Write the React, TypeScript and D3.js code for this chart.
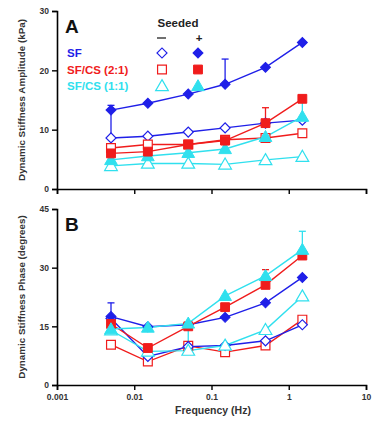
import React, { useEffect, useRef } from "react";
import * as d3 from "d3";

// frequencies (Hz)
const freqs = [0.005, 0.015, 0.05, 0.15, 0.5, 1.5];

// Panel A: dynamic stiffness amplitude (kPa)
const ampSfSeeded = [13.3, 14.45, 16.0, 17.65, 20.5, 24.7];
const ampSfOpen = [8.6, 8.9, 9.6, 10.3, 11.1, 11.6];
const ampCs21Seeded = [6.0, 6.3, 7.5, 8.15, 11.1, 15.2];
const ampCs21Open = [6.9, 7.5, 7.5, 8.3, 8.6, 9.4];
const ampCs11Seeded = [4.9, 5.55, 6.1, 6.75, 8.8, 12.2];
const ampCs11Open = [3.9, 4.3, 4.3, 4.15, 4.9, 5.45];

// Panel B: dynamic stiffness phase (degrees)
const phSfSeeded = [17.5, 14.9, 15.4, 17.3, 21.0, 27.5];
const phSfOpen = [17.0, 7.3, 9.8, 10.1, 11.3, 15.4];
const phCs21Seeded = [15.6, 9.45, 15.0, 19.9, 25.6, 33.1];
const phCs21Open = [10.3, 6.0, 10.0, 8.4, 10.1, 16.7];
const phCs11Seeded = [14.3, 14.7, 15.75, 22.8, 27.9, 34.6];
const phCs11Open = [14.0, 8.6, 8.8, 10.1, 14.1, 22.7];

// error bars: [freq, from, to, cap]
const ampErrors: [number, number, number, boolean][] = [
  [0.005, 13.3, 14.1, true],
  [0.005, 8.6, 13.3, false],
  [0.15, 17.65, 21.9, true],
  [0.5, 11.1, 13.7, true],
  [1.5, 12.2, 15.0, false],
];
const phErrors: [number, number, number, boolean][] = [
  [0.005, 17.5, 21.0, true],
  [0.5, 25.6, 29.5, true],
  [1.5, 34.6, 39.3, true],
  [0.05, 8.8, 15.4, false],
];

const xTicks = [0.001, 0.01, 0.1, 1, 10];
const xTickLabels = ["0.001", "0.01", "0.1", "1", "10"];
const ampTicks = [0, 10, 20, 30];
const phTicks = [0, 15, 30, 45];

const legendNames = ["SF", "SF/CS (2:1)", "SF/CS (1:1)"];

const BLUE = "#1f1fe8";
const RED = "#f01c1c";
const CYAN = "#30e0ee";
const FONT = "Liberation Sans, Arial, sans-serif";

type Shape = "diamond" | "square" | "triangle";

function drawMarker(g: any, shape: Shape, x: number, y: number, color: string, filled: boolean) {
  const sym = shape === "triangle" ? d3.symbolTriangle : d3.symbolSquare;
  const size = shape === "diamond" ? 50 : shape === "square" ? 78 : 70;
  const rot = shape === "diamond" ? " rotate(45)" : "";
  g.append("path")
    .attr("d", d3.symbol(sym, size)())
    .attr("transform", `translate(${x},${y + (shape === "triangle" ? 1 : 0)})${rot}`)
    .attr("fill", filled ? color : "#fff")
    .attr("stroke", color)
    .attr("stroke-width", filled ? 1 : 1.2);
}

function App() {
  const ref = useRef<SVGSVGElement>(null);

  useEffect(() => {
    const svg = d3.select(ref.current);
    svg.selectAll("*").remove();

    const x = d3.scaleLog().domain([0.001, 10]).range([57, 366]);

    const panels = [
      {
        y: d3.scaleLinear().domain([0, 30]).range([189, 11]),
        ticks: ampTicks,
        title: "Dynamic Stiffness Amplitude (kPa)",
        letter: "A",
        letterY: 33,
        labels: false,
        series: [
          { v: ampSfOpen, c: BLUE, s: "diamond", f: false },
          { v: ampCs21Open, c: RED, s: "square", f: false },
          { v: ampCs11Open, c: CYAN, s: "triangle", f: false },
          { v: ampCs11Seeded, c: CYAN, s: "triangle", f: true },
          { v: ampCs21Seeded, c: RED, s: "square", f: true },
          { v: ampSfSeeded, c: BLUE, s: "diamond", f: true },
        ],
        errors: ampErrors,
        errColors: [BLUE, BLUE, BLUE, RED, CYAN],
      },
      {
        y: d3.scaleLinear().domain([0, 45]).range([385, 209]),
        ticks: phTicks,
        title: "Dynamic Stiffness Phase (degrees)",
        letter: "B",
        letterY: 231,
        labels: true,
        series: [
          { v: phCs21Open, c: RED, s: "square", f: false },
          { v: phSfOpen, c: BLUE, s: "diamond", f: false },
          { v: phCs11Open, c: CYAN, s: "triangle", f: false },
          { v: phSfSeeded, c: BLUE, s: "diamond", f: true },
          { v: phCs21Seeded, c: RED, s: "square", f: true },
          { v: phCs11Seeded, c: CYAN, s: "triangle", f: true },
        ],
        errors: phErrors,
        errColors: [BLUE, RED, CYAN, CYAN],
      },
    ];

    panels.forEach((p) => {
      const g = svg.append("g");
      const y0 = p.y.range()[0];

      // axes
      const yAxis = g
        .append("g")
        .attr("transform", "translate(57,0)")
        .call(d3.axisLeft(p.y).tickValues(p.ticks).tickSize(5).tickPadding(3));
      const xAxis = g
        .append("g")
        .attr("transform", `translate(0,${y0})`)
        .call(
          d3
            .axisBottom(x)
            .tickValues(xTicks)
            .tickSize(5)
            .tickPadding(4)
            .tickFormat((d, i) => (p.labels ? xTickLabels[i] : ""))
        );
      [yAxis, xAxis].forEach((a) => {
        a.select(".domain").attr("stroke", "#000").attr("stroke-width", 1.6);
        a.selectAll(".tick line").attr("stroke", "#000").attr("stroke-width", 1.4);
        a.selectAll(".tick text")
          .attr("fill", "#333")
          .style("font-family", FONT)
          .style("font-weight", "bold")
          .style("font-size", "8.5px");
      });

      // y title
      const cy = (p.y.range()[0] + p.y.range()[1]) / 2;
      g.append("text")
        .attr("transform", `translate(25,${cy}) rotate(-90)`)
        .attr("text-anchor", "middle")
        .style("font-family", FONT)
        .style("font-weight", "bold")
        .style("font-size", "9.8px")
        .attr("fill", "#333")
        .text(p.title);

      // panel letter
      g.append("text")
        .attr("x", 65)
        .attr("y", p.letterY)
        .style("font-family", FONT)
        .style("font-weight", "bold")
        .style("font-size", "19px")
        .attr("fill", "#111")
        .text(p.letter);

      // error bars
      p.errors.forEach(([fq, a, b, cap], i) => {
        const col = p.errColors[i];
        g.append("line")
          .attr("x1", x(fq))
          .attr("x2", x(fq))
          .attr("y1", p.y(a))
          .attr("y2", p.y(b))
          .attr("stroke", col)
          .attr("stroke-width", 1.3);
        if (cap) {
          g.append("line")
            .attr("x1", x(fq) - 3.5)
            .attr("x2", x(fq) + 3.5)
            .attr("y1", p.y(b))
            .attr("y2", p.y(b))
            .attr("stroke", col)
            .attr("stroke-width", 1.3);
        }
      });

      const line = d3
        .line<number>()
        .x((d, i) => x(freqs[i]))
        .y((d) => p.y(d));

      p.series.forEach((s) => {
        g.append("path")
          .attr("d", line(s.v))
          .attr("fill", "none")
          .attr("stroke", s.c)
          .attr("stroke-width", 1.4);
      });
      p.series.forEach((s) => {
        s.v.forEach((v, i) => drawMarker(g, s.s as Shape, x(freqs[i]), p.y(v), s.c, s.f));
      });
    });

    // legend
    const lg = svg.append("g");
    lg.append("text")
      .attr("x", 178)
      .attr("y", 27)
      .attr("text-anchor", "middle")
      .style("font-family", FONT)
      .style("font-weight", "bold")
      .style("font-size", "11.5px")
      .attr("fill", "#222")
      .text("Seeded");
    lg.append("line")
      .attr("x1", 157)
      .attr("x2", 166)
      .attr("y1", 38)
      .attr("y2", 38)
      .attr("stroke", "#222")
      .attr("stroke-width", 1.3);
    lg.append("text")
      .attr("x", 199)
      .attr("y", 42)
      .attr("text-anchor", "middle")
      .style("font-family", FONT)
      .style("font-weight", "bold")
      .style("font-size", "11.5px")
      .attr("fill", "#222")
      .text("+");
    const colors = [BLUE, RED, CYAN];
    const shapes: Shape[] = ["diamond", "square", "triangle"];
    legendNames.forEach((n, i) => {
      const yy = 53 + i * 16.5;
      lg.append("text")
        .attr("x", 67)
        .attr("y", yy + 4)
        .style("font-family", FONT)
        .style("font-weight", "bold")
        .style("font-size", "11.5px")
        .attr("fill", colors[i])
        .text(n);
      drawMarker(lg, shapes[i], 162, yy, colors[i], false);
      drawMarker(lg, shapes[i], 198, yy, colors[i], true);
    });

    // x title
    svg
      .append("text")
      .attr("x", 213)
      .attr("y", 414)
      .attr("text-anchor", "middle")
      .style("font-family", FONT)
      .style("font-weight", "bold")
      .style("font-size", "10.5px")
      .attr("fill", "#333")
      .text("Frequency (Hz)");
  }, []);

  return (
    <div style={{ position: "absolute", left: 0, top: 0 }}>
      <svg ref={ref} width={372} height={433} style={{ display: "block", background: "#fff" }} />
    </div>
  );
}

export default App;
